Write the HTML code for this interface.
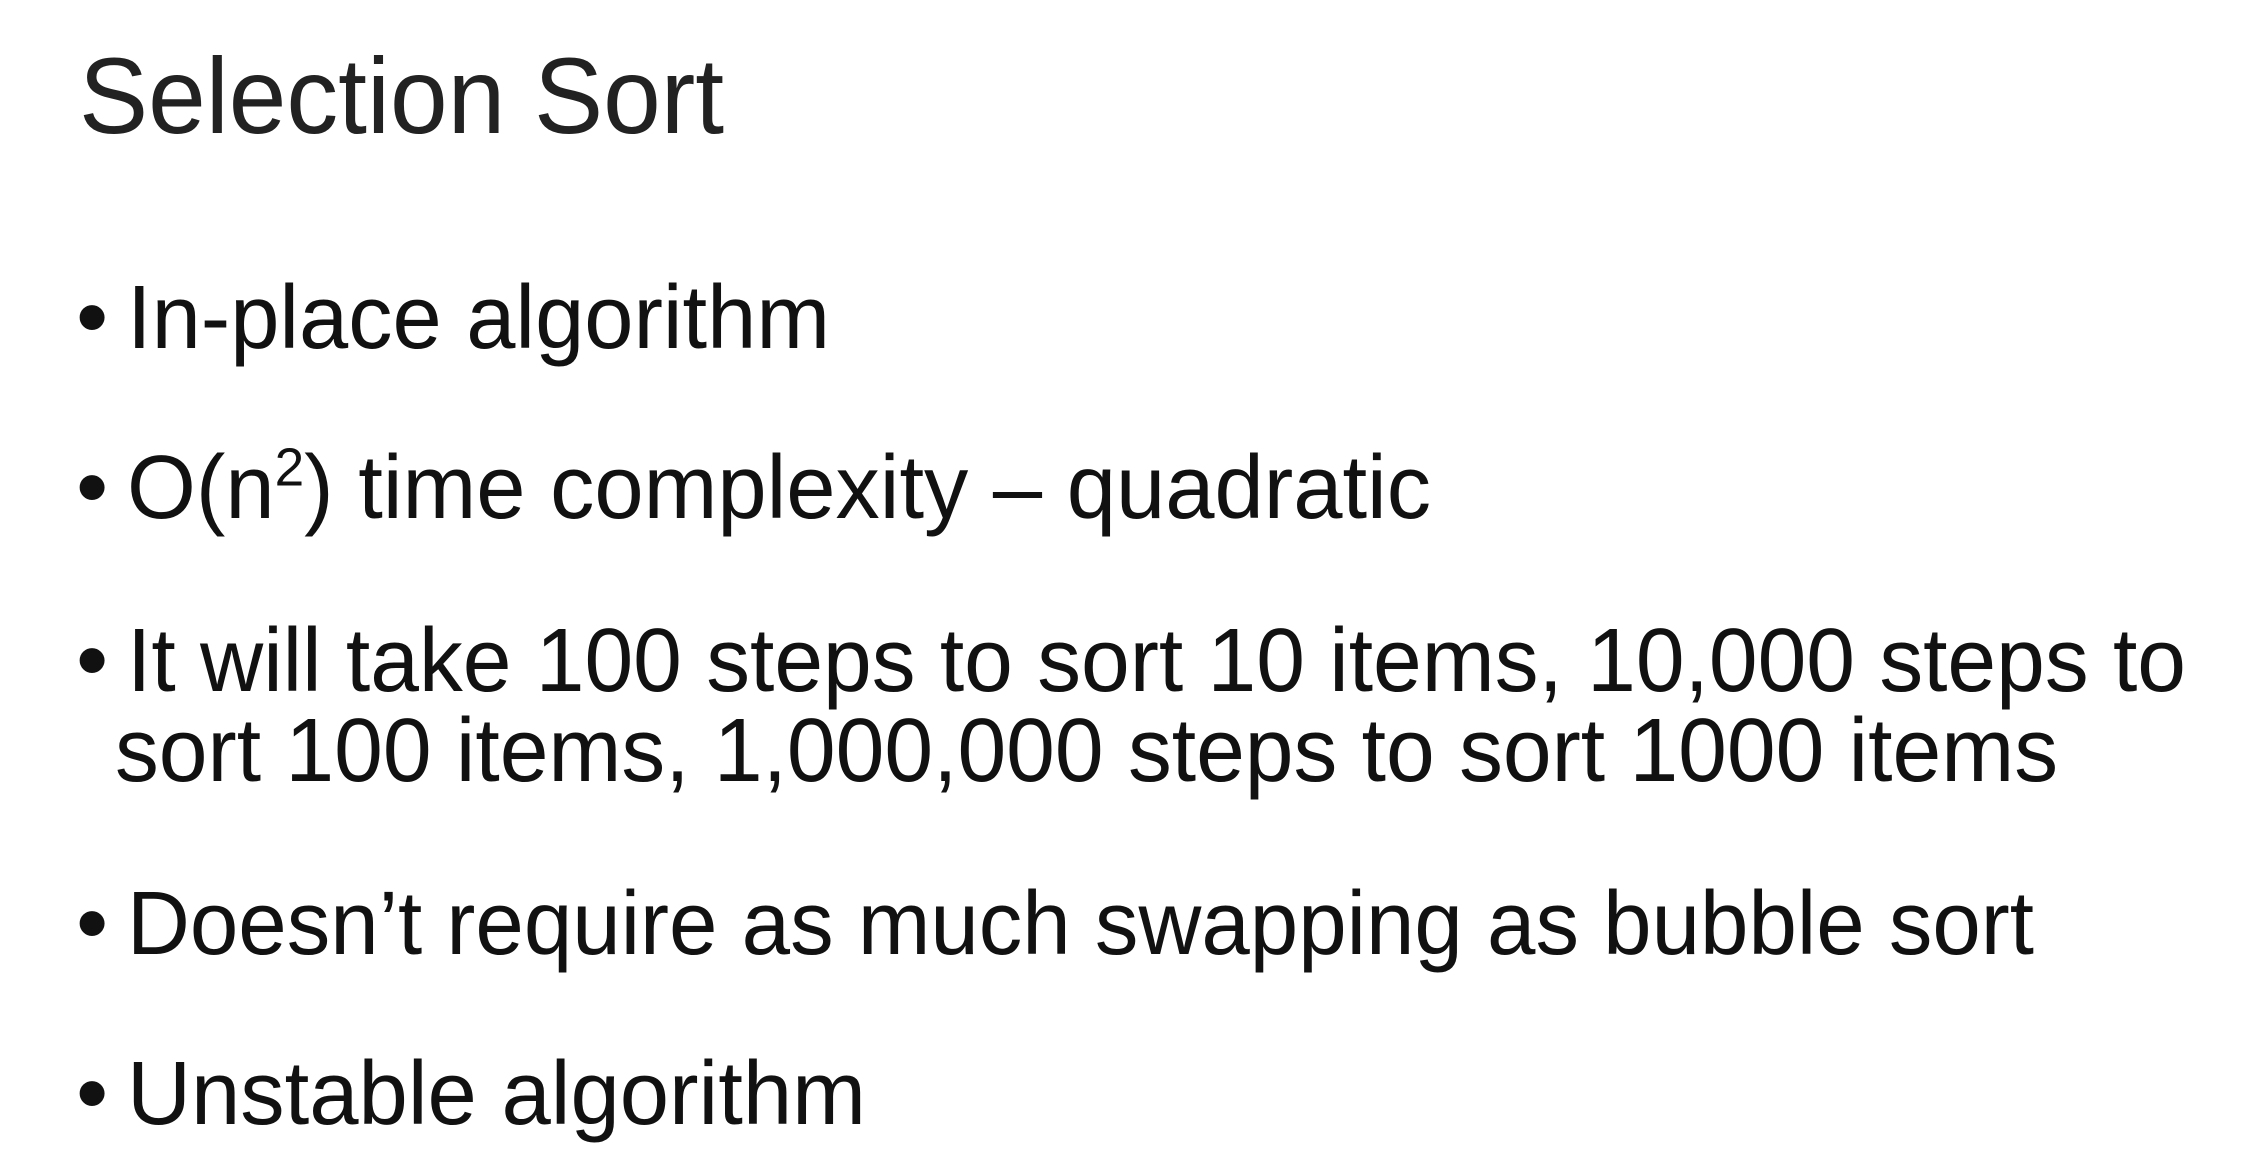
<!DOCTYPE html>
<html><head><meta charset="utf-8">
<style>
html,body{margin:0;padding:0;background:#fff;}
body{width:2262px;height:1176px;position:relative;overflow:hidden;font-family:"Liberation Sans",sans-serif;color:#111;}
.t{position:absolute;white-space:nowrap;line-height:1;transform-origin:0 0;}
.b{position:absolute;font-size:92px;line-height:1;left:76px;}
sup{font-size:0.6em;line-height:0;vertical-align:0.6em;}
</style></head><body>
<div class="t" id="t0" style="left:79px;top:42px;font-size:108px;font-weight:300;color:#222;">Selection Sort</div>

<div class="b" style="top:271px;">•</div>
<div class="t" id="t1" style="left:127px;top:273px;font-size:90px;">In-place algorithm</div>

<div class="b" style="top:441px;">•</div>
<div class="t" id="t2" style="left:127px;top:443px;font-size:90px;">O(n<sup>2</sup>) time complexity – quadratic</div>

<div class="b" style="top:614px;">•</div>
<div class="t" id="t3" style="left:127px;top:616px;font-size:90px;">It will take 100 steps to sort 10 items, 10,000 steps to</div>
<div class="t" id="t4" style="left:115px;top:706px;font-size:90px;">sort 100 items, 1,000,000 steps to sort 1000 items</div>

<div class="b" style="top:877px;">•</div>
<div class="t" id="t5" style="left:127px;top:879px;font-size:90px;">Doesn’t require as much swapping as bubble sort</div>

<div class="b" style="top:1047px;">•</div>
<div class="t" id="t6" style="left:127px;top:1049px;font-size:90px;">Unstable algorithm</div>

<script>
var w={t0:645,t1:703,t2:1304,t3:2059,t4:1943,t5:1907,t6:739};
for(var k in w){var e=document.getElementById(k);var n=e.getBoundingClientRect().width;if(n>0){e.style.transform='scaleX('+(w[k]/n)+')';}}
</script>
</body></html>
